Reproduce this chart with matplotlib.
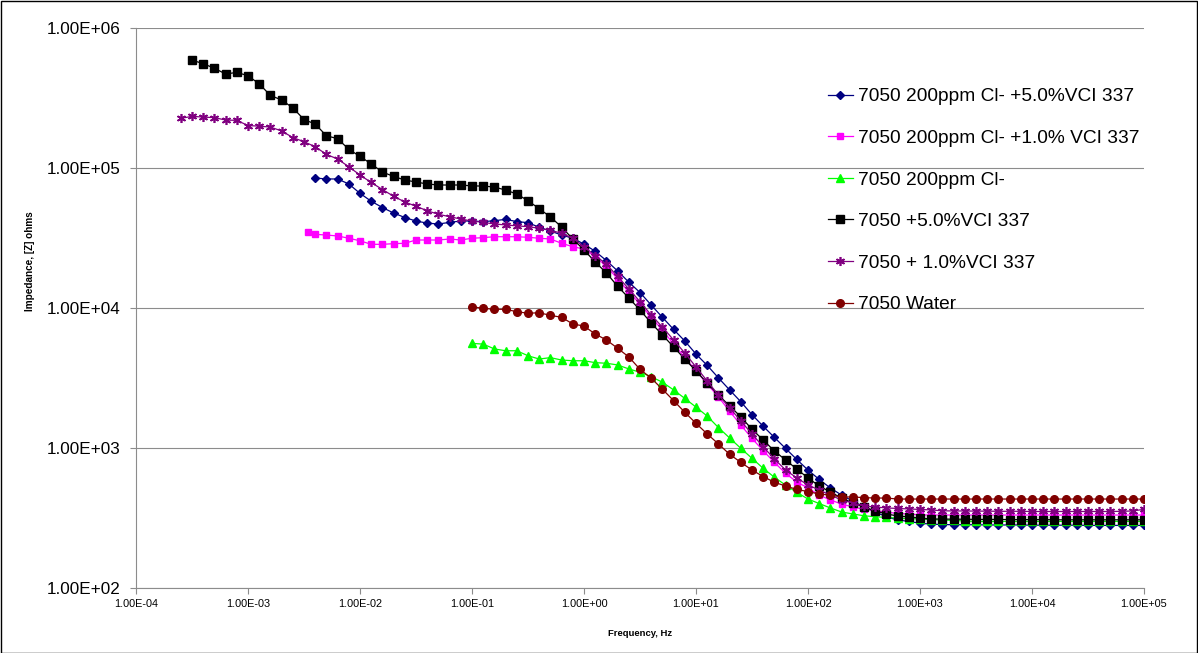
import matplotlib
matplotlib.use("Agg")
from matplotlib import pyplot as plt
from matplotlib import ticker
from matplotlib.patches import Rectangle

# measured frequencies, Hz (10 points per decade)
FREQ = [2.512e-4, 3.162e-4, 3.981e-4, 5.012e-4, 6.310e-4, 7.943e-4,
        1.000e-3, 1.259e-3, 1.585e-3, 1.995e-3, 2.512e-3, 3.162e-3, 3.981e-3, 5.012e-3, 6.310e-3, 7.943e-3,
        1.000e-2, 1.259e-2, 1.585e-2, 1.995e-2, 2.512e-2, 3.162e-2, 3.981e-2, 5.012e-2, 6.310e-2, 7.943e-2,
        1.000e-1, 1.259e-1, 1.585e-1, 1.995e-1, 2.512e-1, 3.162e-1, 3.981e-1, 5.012e-1, 6.310e-1, 7.943e-1,
        1.000, 1.259, 1.585, 1.995, 2.512, 3.162, 3.981, 5.012, 6.310, 7.943,
        10.00, 12.59, 15.85, 19.95, 25.12, 31.62, 39.81, 50.12, 63.10, 79.43,
        100.0, 125.9, 158.5, 199.5, 251.2, 316.2, 398.1, 501.2, 631.0, 794.3,
        1000, 1259, 1585, 1995, 2512, 3162, 3981, 5012, 6310, 7943,
        10000, 12590, 15850, 19950, 25120, 31620, 39810, 50120, 63100, 79430,
        100000]

labels = ["7050 200ppm Cl- +5.0%VCI 337",
          "7050 200ppm Cl- +1.0% VCI 337",
          "7050 200ppm Cl-",
          "7050 +5.0%VCI 337",
          "7050 + 1.0%VCI 337",
          "7050 Water"]

# |Z| in ohms, low frequency -> high frequency
z_cl_5vci = [84800, 83500, 83500, 76900, 65900, 57900, 52200, 47700, 44300, 41800,
             40400, 39800, 40900, 41800, 41800, 41400, 42000, 43000, 41400, 40700,
             37700, 35500, 33200, 31500, 28600, 25400, 21800, 18400, 15300, 12900,
             10500, 8580, 7030, 5810, 4690, 3890, 3170, 2600, 2140, 1730,
             1430, 1190, 992, 828, 696, 596, 518, 461, 418, 379,
             349, 323, 306, 299, 290, 286, 284, 283, 283, 283,
             282, 282, 282, 282, 281, 281, 281, 281, 281, 280,
             280, 280, 280, 280, 280]

freq_cl_1vci = [3.4e-3] + FREQ[-75:]
z_cl_1vci = [34800, 33600, 33200, 32700, 31500, 30200, 28500, 28500, 28800, 29000,
             30600, 30600, 30600, 31100, 30600, 31500, 31800, 32300, 32300, 32300,
             32000, 31500, 31100, 29000, 27400, 26400, 23300, 19800, 16200, 13000,
             10700, 8580, 6960, 5530, 4440, 3560, 2860, 2320, 1830, 1460,
             1170, 957, 789, 659, 572, 518, 461, 425, 398, 379,
             365, 357, 348, 341, 338, 333, 332, 332, 332, 332,
             332, 332, 332, 332, 332, 332, 332, 332, 332, 332,
             332, 332, 332, 332, 332, 332]

z_cl = [5590, 5520, 5100, 4950, 4950, 4560, 4320, 4420, 4250, 4200,
        4200, 4070, 4030, 3920, 3670, 3480, 3230, 2950, 2600, 2260,
        1960, 1690, 1400, 1180, 995, 844, 716, 618, 543, 482,
        432, 401, 373, 349, 338, 328, 323, 319, 316, 313,
        311, 308, 306, 304, 301, 299, 299, 299, 299, 299,
        299, 299, 299, 299, 299, 299, 299, 299, 299, 299,
        299]

z_5vci = [590000, 556000, 516000, 469000, 482000, 456000, 399000, 330000, 306000, 269000,
          222000, 206000, 170000, 162000, 136000, 121000, 107000, 93600, 87000, 82100,
          79400, 76900, 75600, 75600, 75600, 74500, 74300, 73100, 69600, 65200,
          58400, 51200, 44700, 37900, 31100, 26000, 21300, 17800, 14300, 11800,
          9680, 7810, 6420, 5270, 4320, 3550, 2910, 2390, 2000, 1670,
          1360, 1140, 952, 821, 707, 611, 535, 485, 439, 405,
          379, 355, 338, 327, 322, 316, 311, 311, 310, 310,
          309, 309, 309, 308, 308, 308, 308, 307, 307, 307,
          307, 307, 307, 307, 307, 307]

z_1vci = [226000, 234000, 231000, 229000, 220000, 219000, 201000, 199000, 196000, 184000,
          165000, 154000, 142000, 125000, 116000, 102000, 89100, 78800, 70200, 62800,
          57200, 53300, 49500, 46700, 44900, 43200, 41800, 40900, 39800, 39200,
          38600, 38100, 37100, 35900, 34200, 31500, 27400, 23700, 20600, 16800,
          13700, 11100, 8910, 7310, 5910, 4770, 3790, 3010, 2390, 1940,
          1560, 1260, 1020, 835, 696, 611, 544, 501, 461, 425,
          405, 385, 379, 373, 370, 367, 364, 361, 356, 355,
          355, 354, 354, 353, 353, 353, 352, 352, 352, 352,
          352, 352, 352, 352, 353, 355, 365]

z_water = [10200, 9950, 9790, 9790, 9410, 9170, 9250, 8860, 8580, 7690,
           7430, 6520, 5910, 5160, 4470, 3650, 3150, 2630, 2180, 1800,
           1500, 1260, 1070, 902, 790, 696, 625, 569, 535, 506,
           488, 469, 461, 447, 447, 442, 439, 439, 432, 432,
           432, 432, 432, 432, 432, 432, 432, 432, 432, 432,
           432, 432, 432, 432, 432, 432, 432, 432, 432, 432,
           432]

plt.rcParams['font.family'] = ['Liberation Sans', 'DejaVu Sans']

W, H = 1198, 653
fig = plt.figure(figsize=(W / 100, H / 100), dpi=100)
ax = fig.add_axes([136 / W, 1 - 588 / H, 1008 / W, 560 / H])

series = [
    (FREQ[-75:], z_cl_5vci, '#000080', 'D', 4.2, 1.0),
    (freq_cl_1vci, z_cl_1vci, '#FF00FF', 's', 5.0, 1.0),
    (FREQ[-61:], z_cl, '#00FF00', '^', 5.5, 1.0),
    (FREQ[-86:], z_5vci, '#000000', 's', 5.5, 1.0),
    (FREQ[-87:], z_1vci, '#800080', (6, 2, 0), 6.5, 1.2),
    (FREQ[-61:], z_water, '#800000', 'o', 5.5, 1.0),
]
for (f, z, c, m, ms, mew), lab in zip(series, labels):
    ax.plot(f, z, color=c, lw=0.9, marker=m, ms=ms, mfc=c, mec=c, mew=mew, label=lab)

ax.set_xscale('log')
ax.set_yscale('log')
ax.set_xlim(1e-4, 1e5)
ax.set_ylim(1e2, 1e6)

fmt = ticker.FuncFormatter(lambda v, p: f"{v:.2E}")
for axis in (ax.xaxis, ax.yaxis):
    axis.set_major_locator(ticker.LogLocator(base=10, numticks=20))
    axis.set_minor_locator(ticker.NullLocator())
    axis.set_major_formatter(fmt)

ax.yaxis.grid(True, color='#8c8c8c', lw=0.8)
ax.set_axisbelow(True)
for side in ('top', 'right'):
    ax.spines[side].set_visible(False)
for side in ('left', 'bottom'):
    ax.spines[side].set_color('#8c8c8c')
    ax.spines[side].set_linewidth(0.8)

ax.tick_params(axis='both', direction='out', length=4.3, width=0.8, color='#8c8c8c')
ax.tick_params(axis='y', pad=7, labelsize=12.3)
ax.tick_params(axis='x', pad=3.5, labelsize=7.8)

fig.text(640 / W, 1 - 633 / H, 'Frequency, Hz', ha='center', va='center',
         fontsize=6.8, fontweight='bold')
fig.text(30 / W, 1 - 261 / H, 'Impedance, [Z] ohms', ha='center', va='center',
         rotation=90, fontsize=7.2, fontweight='bold')

ax.legend(loc='upper left', bbox_to_anchor=(828 / W, 1 - 88 / H),
          bbox_transform=fig.transFigure, frameon=False, fontsize=13.8,
          borderpad=0, borderaxespad=0, labelspacing=1.26,
          handlelength=1.3, handletextpad=0.28, numpoints=1)

# outer chart border
fig.patches.append(Rectangle((0.5 / W, 0.5 / H), (W - 1.5) / W, (H - 1.5) / H,
                             transform=fig.transFigure, fill=False,
                             edgecolor='black', lw=1))

fig.savefig('out.png', dpi=100)
